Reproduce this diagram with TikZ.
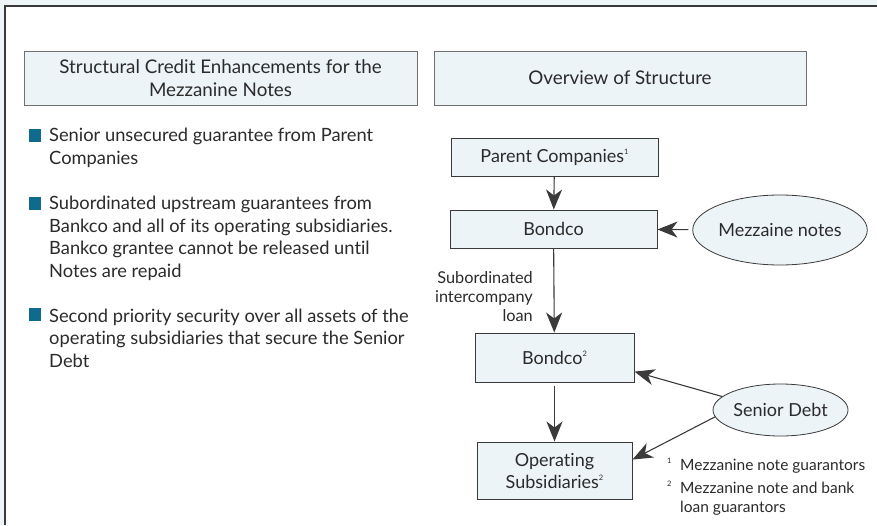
\documentclass[tikz,border=0pt]{standalone}
\usepackage{fontspec}
\setmainfont{Lato}[Ligatures={NoCommon,NoContextual},Contextuals=NoAlternate,RawFeature={-liga;-clig;-calt}]
\usetikzlibrary{arrows.meta,shapes.geometric}
\definecolor{bgblue}{HTML}{EEF5F9}
\definecolor{boxfill}{HTML}{ECF4F8}
\definecolor{bulletblue}{HTML}{0F6A8E}
\definecolor{framegray}{HTML}{3A3A3A}
\definecolor{hdrgray}{HTML}{707070}
\definecolor{txt}{HTML}{2B2B2B}
\newcommand{\supn}[1]{\raisebox{0.8ex}{\fontsize{7.5}{7.5}\selectfont #1}}
\tikzset{
  body/.style={font=\fontsize{18.3}{22.5}\selectfont, text=txt},
  hdrbox/.style={draw=hdrgray, line width=0.9pt, fill=boxfill, inner sep=0pt, align=center, font=\fontsize{18.8}{23}\selectfont, text=txt},
  entbox/.style={draw=framegray, line width=1pt, fill=boxfill, inner sep=0pt, align=center, font=\fontsize{18}{22}\selectfont, text=txt},
  entell/.style={ellipse, draw=framegray, line width=0.8pt, fill=boxfill, inner sep=0pt, font=\fontsize{18}{22}\selectfont, text=txt},
  bullettext/.style={anchor=base west, inner sep=0pt, align=left, body},
  bulletsq/.style={fill=bulletblue, minimum size=12.5pt, inner sep=0pt},
  conn/.style={draw=framegray, line width=1.1pt, -{Stealth[length=20pt,width=16pt,inset=6pt]}},
  small/.style={font=\fontsize{16.3}{19}\selectfont, text=txt, inner sep=0pt},
  foot/.style={font=\fontsize{15.5}{19}\selectfont, text=txt, inner sep=0pt, anchor=base west, align=left}
}
\begin{document}
\begin{tikzpicture}[x=1pt,y=-1pt]
\useasboundingbox (0,0) rectangle (877,525);
\fill[bgblue] (0,0) rectangle (877,525);
\fill[white] (5,6) rectangle (877,525);
\draw[framegray, line width=1.6pt] (5,525) -- (5,6) -- (877,6);

% headers
\node[hdrbox, minimum width=393pt, minimum height=54pt] (hleft) at (220.5,78) {Structural Credit Enhancements for the\\Mezzanine Notes};
\node[hdrbox, minimum width=372pt, minimum height=54pt] (hright) at (620,78) {Overview of Structure};

% bullets (base = last line)
\node[bulletsq] (b1) at (35,135.5) {};
\node[bullettext] (t1) at (49,164) {Senior unsecured guarantee from Parent\\Companies};
\node[bulletsq] (b2) at (35,203.5) {};
\node[bullettext] (t2) at (49,277) {Subordinated upstream guarantees from\\Bankco and all of its operating subsidiaries.\\Bankco grantee cannot be released until\\Notes are repaid};
\node[bulletsq] (b3) at (35,314.5) {};
\node[bullettext] (t3) at (49,367) {Second priority security over all assets of the\\operating subsidiaries that secure the Senior\\Debt};

% structure
\node[entbox, minimum width=207pt, minimum height=38pt] (parent) at (554.5,157) {Parent Companies\supn{1}};
\node[entbox, minimum width=207pt, minimum height=38pt] (bondco) at (553.5,229) {Bondco};
\node[entell, minimum width=151pt, minimum height=70pt] (mezz) at (780,230) {Mezzaine notes};
\node[entbox, minimum width=159pt, minimum height=49pt] (bondco2) at (554.5,357.5) {Bondco\supn{2}};
\node[entbox, minimum width=155pt, minimum height=57pt] (op) at (554.5,470.5) {Operating\\Subsidiaries\supn{2}};
\node[entell, minimum width=135pt, minimum height=52pt] (senior) at (780.5,410) {Senior Debt};

\draw[conn] (parent) -- (bondco);
\draw[conn, shorten <=4pt] (mezz) -- (bondco);
\draw[conn] (bondco) -- (bondco2);
\node[small, anchor=base east, align=right] (lbl) at (533,321) {Subordinated\\intercompany\\loan};
\draw[conn] (bondco2.south) ++(0,3) coordinate (b2s) (b2s) -- (op);
\draw[conn] (senior.167) -- (bondco2.-10);
\draw[conn] (senior.186) -- (op.8);

% footnotes
\node[foot] (f1n) at (667,470) {\supn{1}};
\node[foot] (f1) at (680,470) {Mezzanine note guarantors};
\node[foot] (f2n) at (667,493) {\supn{2}};
\node[foot] (f2) at (680,512) {Mezzanine note and bank\\loan guarantors};
\end{tikzpicture}
\end{document}
